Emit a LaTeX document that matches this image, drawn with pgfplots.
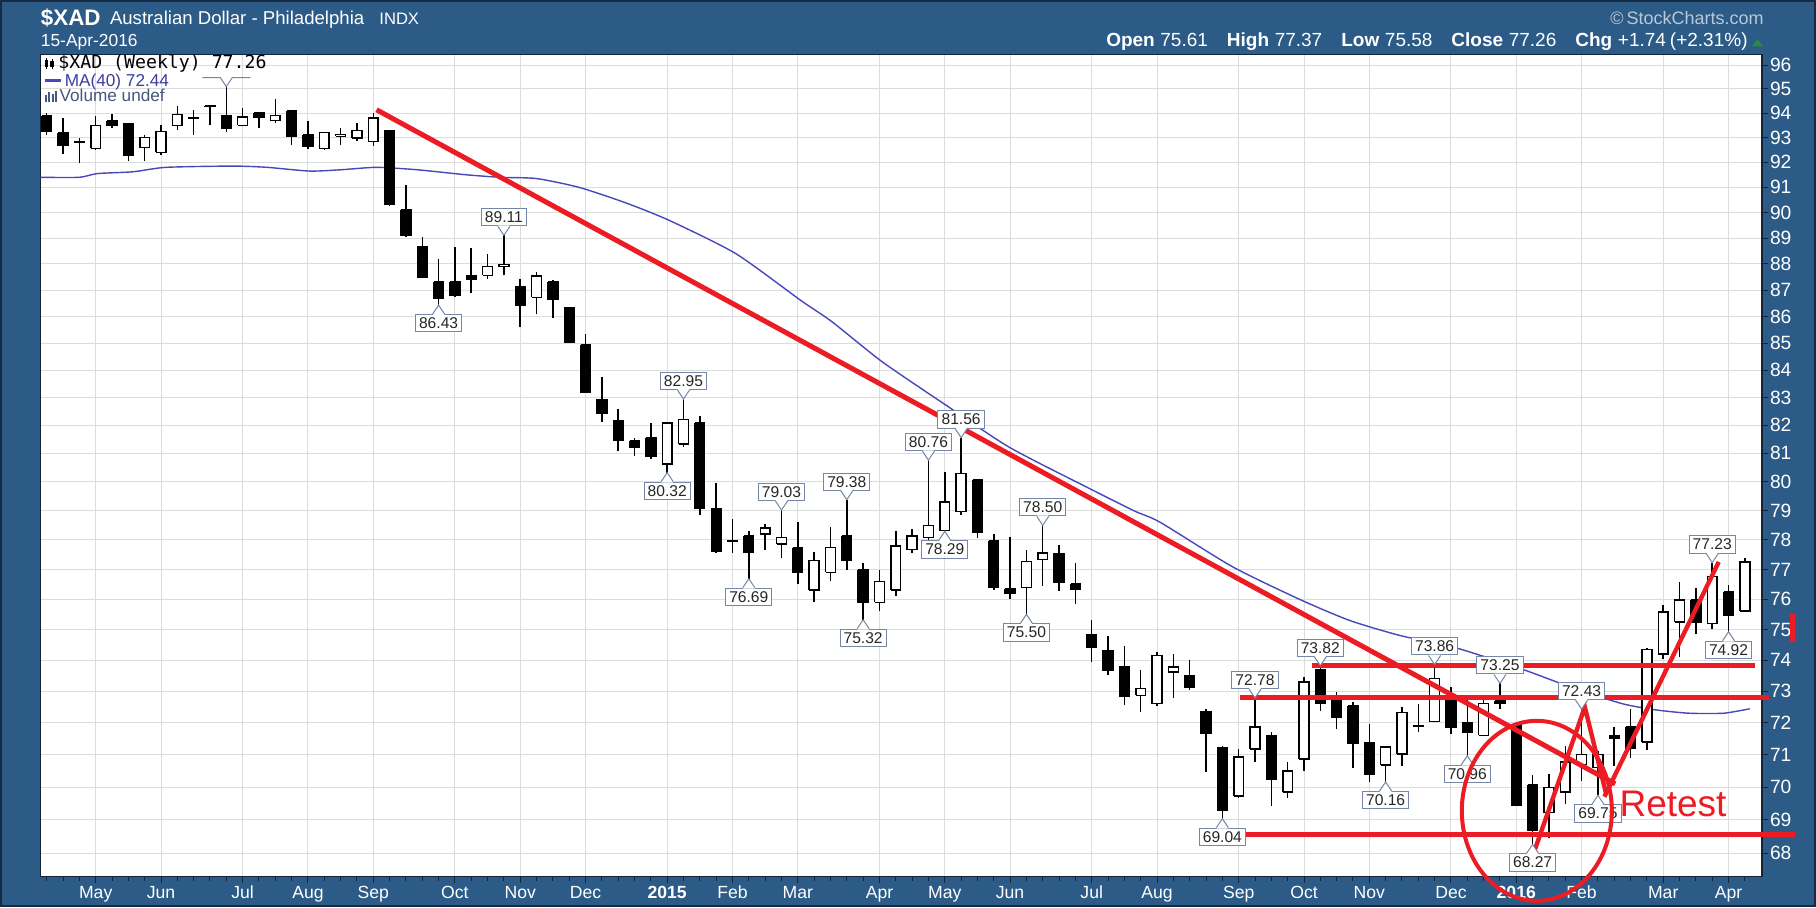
\documentclass[border=0pt]{standalone}
\usepackage{pgfplots}
\pgfplotsset{compat=1.18}
\usepackage{pgfplotstable}
\usepackage{fontspec}
\setmainfont{Liberation Sans}
\newfontfamily\dejamono{DejaVu Sans Mono}

\definecolor{frameblue}{RGB}{43,91,134}
\definecolor{framedark}{RGB}{22,42,66}
\definecolor{axisdark}{RGB}{20,35,55}
\definecolor{gridgray}{RGB}{220,220,220}
\definecolor{mablue}{RGB}{72,72,185}
\definecolor{annred}{RGB}{236,28,36}
\definecolor{labgray}{RGB}{118,134,165}
\definecolor{volgray}{RGB}{70,88,125}
\definecolor{scgray}{RGB}{185,200,218}
\definecolor{upgreen}{RGB}{40,140,60}

\newcommand\ytfont{\fontsize{9.6}{10}\selectfont}
\newcommand\xtfont{\fontsize{8.8}{9}\selectfont}
\newcommand\labfont{\fontsize{7.8}{8}\selectfont}
\newcommand\legfont{\fontsize{8.6}{9}\selectfont}
\newcommand\legmono{\dejamono\fontsize{9.1}{10}\selectfont}

\tikzset{labbox/.style={draw=labgray, fill=white, line width=0.5pt, font=\labfont,
  text=black!85, inner xsep=1.8pt, inner ysep=1.4pt, text height=5.6pt, text depth=0.2pt}}

\pgfdeclareplotmark{vdown}{%
  \pgfpathmoveto{\pgfqpoint{-3pt}{4.95pt}}\pgfpathlineto{\pgfqpoint{0pt}{0.3pt}}%
  \pgfpathlineto{\pgfqpoint{3pt}{4.95pt}}\pgfpathclose
  \pgfsetfillcolor{white}\pgfusepathqfill
  \pgfpathmoveto{\pgfqpoint{-3pt}{4.5pt}}\pgfpathlineto{\pgfqpoint{0pt}{0pt}}%
  \pgfpathlineto{\pgfqpoint{3pt}{4.5pt}}\pgfusepathqstroke}
\pgfdeclareplotmark{vup}{%
  \pgfpathmoveto{\pgfqpoint{-3pt}{-4.95pt}}\pgfpathlineto{\pgfqpoint{0pt}{-0.3pt}}%
  \pgfpathlineto{\pgfqpoint{3pt}{-4.95pt}}\pgfpathclose
  \pgfsetfillcolor{white}\pgfusepathqfill
  \pgfpathmoveto{\pgfqpoint{-3pt}{-4.5pt}}\pgfpathlineto{\pgfqpoint{0pt}{0pt}}%
  \pgfpathlineto{\pgfqpoint{3pt}{-4.5pt}}\pgfusepathqstroke}
\pgfdeclareplotmark{vdownedge}{%
  \pgfpathmoveto{\pgfqpoint{-12pt}{4.5pt}}\pgfpathlineto{\pgfqpoint{-3pt}{4.5pt}}%
  \pgfpathlineto{\pgfqpoint{0pt}{0pt}}\pgfpathlineto{\pgfqpoint{3pt}{4.5pt}}%
  \pgfpathlineto{\pgfqpoint{12pt}{4.5pt}}\pgfusepathqstroke}
\pgfdeclareplotmark{ring}{%
  \pgfpathellipse{\pgfpointorigin}{\pgfqpoint{37.5pt}{0pt}}{\pgfqpoint{0pt}{45pt}}%
  \pgfusepathqstroke}

% weekly OHLC, index 0 = week ending 18-Apr-2014
\pgfplotstableread{
i O H L C
0 93.90 94.00 93.10 93.25
1 93.20 93.80 92.35 92.70
2 92.80 92.98 91.97 92.82
3 92.57 93.90 92.50 93.50
4 93.70 93.95 93.40 93.50
5 93.56 93.60 92.05 92.30
6 92.60 93.10 92.05 93.00
7 92.40 93.50 92.30 93.25
8 93.50 94.30 93.30 93.95
9 93.80 94.15 93.10 93.82
10 94.30 94.33 93.50 94.28
11 93.90 95.10 93.25 93.40
12 93.50 94.20 93.50 93.85
13 94.00 94.05 93.40 93.85
14 93.70 94.60 93.60 93.90
15 94.10 94.10 92.70 93.05
16 93.10 93.70 92.55 92.65
17 92.57 93.20 92.50 93.20
18 93.05 93.40 92.70 93.12
19 92.99 93.60 92.85 93.30
20 92.85 94.00 92.65 93.80
21 93.30 93.30 90.25 90.31
22 90.10 91.10 89.05 89.10
23 88.65 89.05 87.45 87.50
24 87.30 88.20 86.43 86.70
25 87.30 88.65 86.75 86.80
26 87.55 88.60 86.90 87.40
27 87.56 88.40 87.44 87.90
28 87.90 89.11 87.56 87.97
29 87.12 87.44 85.60 86.43
30 86.72 87.69 86.09 87.54
31 87.30 87.37 85.96 86.67
32 86.33 86.35 85.00 85.04
33 84.93 85.35 83.17 83.19
34 82.94 83.75 82.12 82.45
35 82.15 82.60 81.09 81.45
36 81.44 81.56 80.92 81.23
37 81.56 82.08 80.80 80.88
38 80.63 82.10 80.32 82.08
39 81.33 82.95 81.23 82.20
40 82.08 82.33 78.85 79.08
41 79.08 79.97 77.55 77.60
42 77.95 78.70 77.55 77.98
43 78.14 78.32 76.69 77.56
44 78.20 78.55 77.67 78.40
45 77.85 79.03 77.38 78.08
46 77.73 78.61 76.50 76.90
47 76.30 77.60 75.90 77.30
48 76.90 78.44 76.60 77.73
49 78.14 79.38 77.00 77.30
50 77.00 77.20 75.32 75.90
51 75.90 77.00 75.60 76.60
52 76.30 78.30 76.10 77.80
53 77.67 78.37 77.55 78.14
54 78.08 80.76 77.85 78.49
55 78.32 80.35 78.29 79.31
56 78.97 81.56 78.85 80.29
57 80.06 80.10 78.08 78.26
58 77.98 78.20 76.30 76.39
59 76.35 78.09 76.00 76.20
60 76.39 77.66 75.50 77.27
61 77.33 78.50 76.44 77.55
62 77.54 77.82 76.28 76.56
63 76.50 77.22 75.83 76.33
64 74.84 75.33 73.95 74.42
65 74.32 74.79 73.52 73.68
66 73.78 74.47 72.55 72.82
67 72.87 73.68 72.34 73.09
68 72.60 74.26 72.54 74.14
69 73.62 74.20 72.77 73.78
70 73.50 73.99 73.02 73.13
71 72.35 72.44 70.45 71.66
72 71.20 71.28 69.04 69.30
73 69.73 71.18 69.68 70.92
74 71.18 72.78 70.76 71.86
75 71.60 71.70 69.43 70.25
76 69.84 70.78 69.68 70.50
77 70.87 73.45 70.50 73.29
78 73.67 73.82 72.38 72.60
79 72.76 72.97 71.80 72.18
80 72.52 72.65 70.60 71.36
81 71.36 71.96 70.14 70.40
82 70.68 71.28 70.16 71.23
83 71.02 72.49 70.66 72.33
84 71.88 72.60 71.70 71.92
85 72.03 73.86 72.01 73.40
86 72.76 73.13 71.65 71.85
87 71.99 72.76 70.96 71.70
88 71.60 72.76 71.57 72.60
89 72.68 73.25 72.44 72.62
90 71.93 71.96 69.43 69.45
91 70.06 70.37 68.27 68.68
92 69.22 70.40 68.45 69.99
93 69.84 71.28 69.48 70.76
94 70.70 72.43 70.20 71.00
95 70.60 71.12 69.75 71.00
96 71.60 71.87 70.64 71.50
97 71.86 72.44 70.90 71.19
98 71.39 74.40 71.13 74.35
99 74.20 75.80 74.04 75.58
100 75.25 76.58 74.10 75.97
101 75.97 76.36 74.87 75.25
102 75.20 77.23 75.03 76.75
103 76.24 76.47 74.92 75.46
104 75.61 77.37 75.58 77.26
}\ohlc

\begin{document}
\begin{tikzpicture}
\useasboundingbox (0,0) rectangle (908pt,453.5pt);
\fill[frameblue] (0,0) rectangle (908pt,453.5pt);
\draw[framedark, line width=1.2pt] (0.6pt,0.6pt) rectangle (907.4pt,452.9pt);

\begin{axis}[
  at={(20.25pt,15pt)}, anchor=south west,
  scale only axis, width=860.75pt, height=411pt,
  xmin=-0.38, xmax=105.05,
  ymode=log, ymin=67.3, ymax=96.43,
  clip=false,
  axis background/.style={fill=white},
  axis line style={axisdark, line width=0.6pt},
  grid=major,
  major grid style={gridgray, line width=0.5pt},
  xtick={3,7,12,16,20,25,29,33,38,42,46,51,55,59,64,68,73,77,81,86,90,94,99,103},
  xticklabels={May,Jun,Jul,Aug,Sep,Oct,Nov,Dec,\textbf{2015},Feb,Mar,Apr,May,Jun,Jul,Aug,Sep,Oct,Nov,Dec,\textbf{2016},Feb,Mar,Apr},
  minor xtick={0,...,104},
  ytick={68,69,...,96},
  yticklabels={68,69,70,71,72,73,74,75,76,77,78,79,80,81,82,83,84,85,86,87,88,89,90,91,92,93,94,95,96},
  yminorticks=false,
  xtick pos=left, ytick pos=right,
  xticklabel pos=left, yticklabel pos=right,
  tick align=outside,
  major tick length=3pt, minor tick length=2pt,
  tick style={axisdark, line width=0.5pt},
  yticklabel style={font=\ytfont, text=white, anchor=west, inner sep=0pt, xshift=0.8pt},
  xticklabel style={font=\xtfont, text=white, anchor=north, inner sep=0pt, yshift=-1.5pt},
]

% MA(40)
\addplot[mablue, line width=0.7pt, smooth, tension=0.4] coordinates {
(-0.38,91.40) (2,91.40) (3.1,91.55) (5.3,91.62) (7.3,91.80) (11.4,91.85) (13.5,91.80)
(16.1,91.65) (18,91.70) (20.2,91.80) (22.7,91.70) (25.7,91.50) (27.8,91.40) (30,91.35)
(32.6,91.00) (35.4,90.40) (38.1,89.70) (42.2,88.40) (46.2,86.60) (48.1,85.80) (51.2,84.30)
(55.4,82.60) (59,81.20) (63.8,79.80) (66.6,79.00) (68.2,78.60) (72.6,77.10) (76.7,76.00)
(79.8,75.30) (82.9,74.80) (86.3,74.40) (90.4,73.70) (93.5,73.10) (96.5,72.60) (98.6,72.40)
(100.6,72.30) (102.7,72.30) (104.3,72.44)};

% candles
\pgfplotsforeachungrouped \k in {0,...,104}{%
  \pgfplotstablegetelem{\k}{O}\of\ohlc \let\vO\pgfplotsretval
  \pgfplotstablegetelem{\k}{H}\of\ohlc \let\vH\pgfplotsretval
  \pgfplotstablegetelem{\k}{L}\of\ohlc \let\vL\pgfplotsretval
  \pgfplotstablegetelem{\k}{C}\of\ohlc \let\vC\pgfplotsretval
  \pgfmathsetmacro\xl{\k-0.3}%
  \pgfmathsetmacro\xr{\k+0.3}%
  \pgfmathtruncatemacro\isup{\vC>=\vO ? 1 : 0}%
  \ifnum\isup=1 \def\bfill{white}\else\def\bfill{black}\fi
  \edef\docandle{%
    \noexpand\addplot[forget plot, black, line width=0.75pt] coordinates {(\k,\vL) (\k,\vH)};
    \noexpand\addplot[forget plot, draw=black, fill=\bfill, line width=0.75pt]
      coordinates {(\xl,\vO) (\xr,\vO) (\xr,\vC) (\xl,\vC) (\xl,\vO)};
  }%
  \docandle
}

% value labels: highs
\addplot[only marks, mark=none, point meta=explicit symbolic, nodes near coords,
  nodes near coords style={labbox, anchor=south, yshift=4.5pt}] table[x=x, y=y, meta=t] {
x y t
28 89.11 89.11
39 82.95 82.95
45 79.03 79.03
49 79.38 79.38
54 80.76 80.76
56 81.56 81.56
61 78.50 78.50
74 72.78 72.78
78 73.82 73.82
85 73.86 73.86
89 73.25 73.25
94 72.43 72.43
102 77.23 77.23
};
\addplot[only marks, mark=vdown, mark options={draw=labgray, line width=0.5pt}] table[x=x, y=y] {
x y
28 89.11
39 82.95
45 79.03
49 79.38
54 80.76
56 81.56
61 78.50
74 72.78
78 73.82
85 73.86
89 73.25
94 72.43
102 77.23
};
\addplot[only marks, mark=vdownedge, mark options={draw=labgray, line width=0.5pt}] coordinates {(11,95.10)};
% value labels: lows
\addplot[only marks, mark=none, point meta=explicit symbolic, nodes near coords,
  nodes near coords style={labbox, anchor=north, yshift=-4.5pt}] table[x=x, y=y, meta=t] {
x y t
24 86.43 86.43
38 80.32 80.32
43 76.69 76.69
50 75.32 75.32
55 78.29 78.29
60 75.50 75.50
72 69.04 69.04
82 70.16 70.16
87 70.96 70.96
91 68.27 68.27
95 69.75 69.75
103 74.92 74.92
};
\addplot[only marks, mark=vup, mark options={draw=labgray, line width=0.5pt}] table[x=x, y=y] {
x y
24 86.43
38 80.32
43 76.69
50 75.32
55 78.29
60 75.50
72 69.04
82 70.16
87 70.96
91 68.27
95 69.75
103 74.92
};

% red hand-drawn annotations
\addplot[annred, line width=2.5pt] coordinates {(20.2,94.14) (96.06,70.10)};
\addplot[annred, line width=2.5pt] coordinates {(77.5,73.82) (104.6,73.82)};
\addplot[annred, line width=2.5pt] coordinates {(73.1,72.80) (105.5,72.80)};
\addplot[annred, line width=2.5pt] coordinates {(71.7,68.57) (107.1,68.57)};
\addplot[annred, line width=2.2pt] coordinates {(91.1,68.05) (94.2,72.50) (95.5,69.80)};
\addplot[annred, line width=2.2pt] coordinates {(95.4,69.70) (102.4,77.25)};
\addplot[annred, line width=2.5pt] coordinates {(106.9,75.50) (106.9,74.60)};
\addplot[only marks, mark=ring, mark options={draw=annred, line width=2pt}] coordinates {(91.26,69.28)};
\addplot[only marks, mark=none, nodes near coords={Retest},
  nodes near coords style={anchor=base west, text=annred, font=\fontsize{18.5}{19}\selectfont, inner sep=0pt}]
  coordinates {(96.3,69.11)};
\end{axis}

% legend (top-left inside plot)
\draw[black, line width=0.5pt] (23.2pt,418.8pt) -- (23.2pt,424.6pt);
\fill[black] (22.4pt,419.8pt) rectangle (24.0pt,423.6pt);
\draw[black, line width=0.5pt] (26.0pt,419.2pt) -- (26.0pt,424.2pt);
\fill[black] (25.2pt,420.2pt) rectangle (26.8pt,423.0pt);
\node[anchor=base west, inner sep=0pt, font=\legmono] at (29pt,419.3pt) {\$XAD (Weekly) 77.26};
\draw[mablue, line width=1.4pt] (22.5pt,413.2pt) -- (30.5pt,413.2pt);
\node[anchor=base west, inner sep=0pt, text=mablue!85!black, font=\legfont] at (32.2pt,410pt) {MA(40) 72.44};
\fill[volgray] (22.6pt,402.7pt) rectangle (23.6pt,405.9pt);
\fill[volgray] (24.2pt,402.7pt) rectangle (25.2pt,407.5pt);
\fill[volgray] (25.8pt,402.7pt) rectangle (26.8pt,406.5pt);
\fill[volgray] (27.4pt,402.7pt) rectangle (28.4pt,407.9pt);
\node[anchor=base west, inner sep=0pt, text=volgray, font=\legfont] at (29.6pt,402.6pt) {Volume undef};

% titles
\node[anchor=base west, inner sep=0pt, text=white, font=\fontsize{11.2}{12}\selectfont\bfseries] at (20.25pt,440.5pt) {\$XAD};
\node[anchor=base west, inner sep=0pt, text=white, font=\fontsize{9.3}{10}\selectfont] at (54.8pt,441pt) {Australian Dollar - Philadelphia};
\node[anchor=base west, inner sep=0pt, text=white, font=\fontsize{8.3}{9}\selectfont] at (189.5pt,441pt) {INDX};
\node[anchor=base west, inner sep=0pt, text=white, font=\fontsize{8.7}{9}\selectfont] at (20.25pt,430.25pt) {15-Apr-2016};
\node[anchor=base east, inner sep=0pt, text=scgray, font=\fontsize{9}{10}\selectfont] at (882pt,441pt) {\textcopyright\,StockCharts.com};
\node[anchor=base east, inner sep=0pt, text=white, font=\fontsize{9.5}{10}\selectfont] at (874pt,430.25pt)
  {\textbf{Open}\hspace{2.8pt}75.61\hspace{9.5pt}\textbf{High}\hspace{2.8pt}77.37\hspace{9.5pt}\textbf{Low}\hspace{2.8pt}75.58\hspace{9.5pt}\textbf{Close}\hspace{2.8pt}77.26\hspace{9.5pt}\textbf{Chg}\hspace{2.8pt}+1.74\hspace{2pt}(+2.31\%)};
\fill[upgreen] (876pt,430.3pt) -- (881.5pt,430.3pt) -- (878.75pt,434pt) -- cycle;
\end{tikzpicture}
\end{document}
